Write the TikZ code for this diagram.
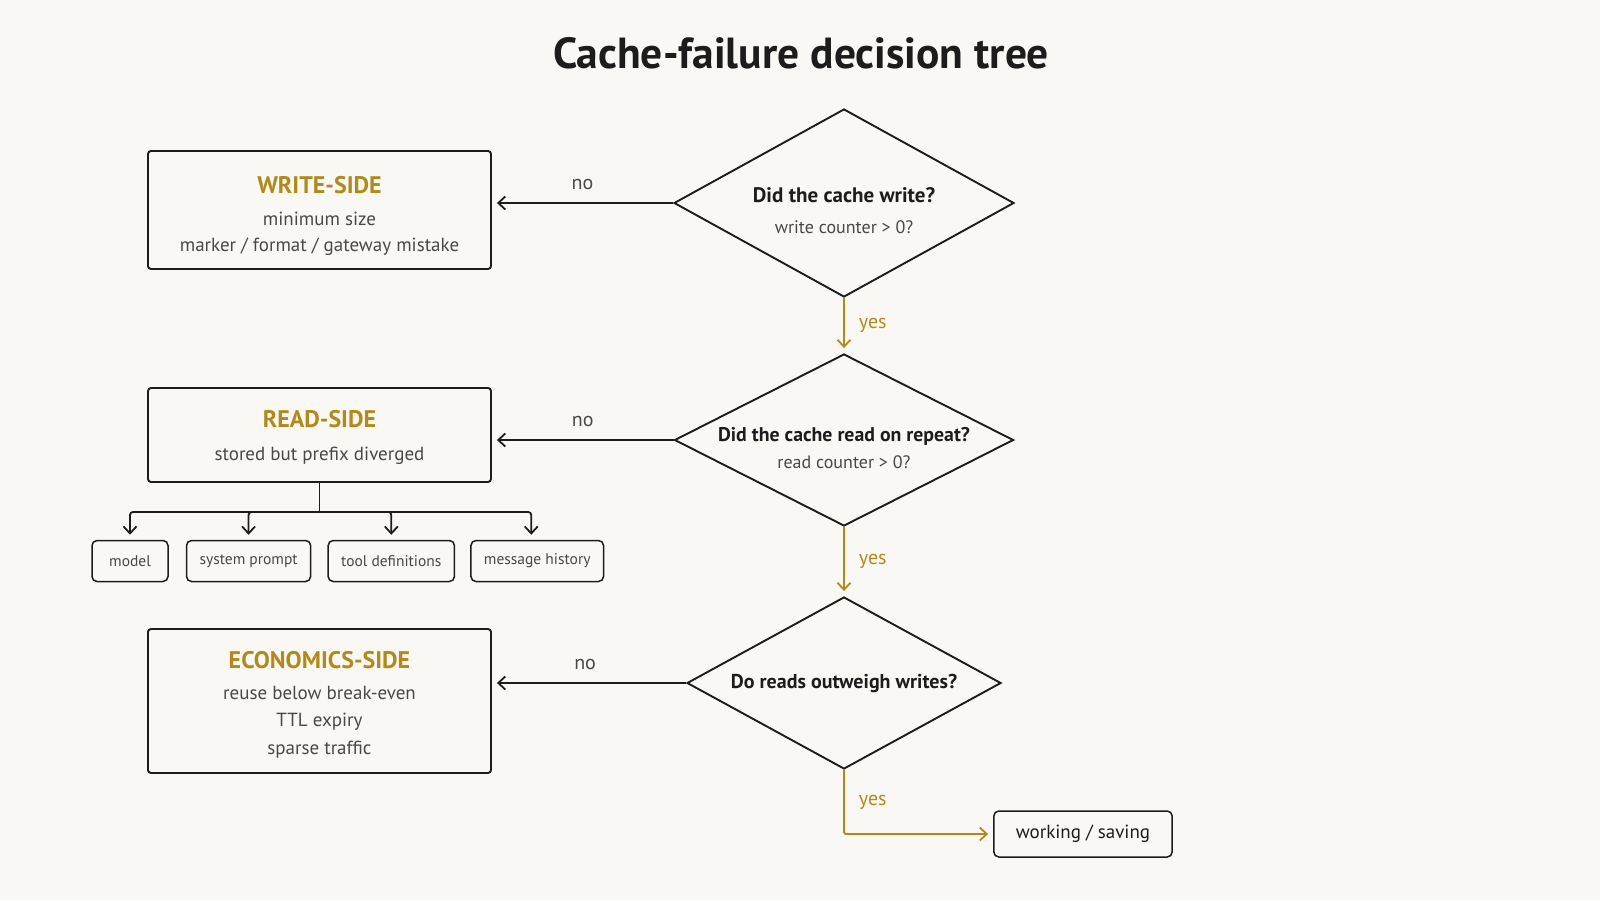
\documentclass[tikz,border=0pt]{standalone}
\usepackage{fontspec}
\setmainfont{PT Sans}
\usetikzlibrary{arrows.meta,positioning,shapes.geometric}
\definecolor{treebg}{RGB}{249,248,244}
\definecolor{treedark}{RGB}{28,28,28}
\definecolor{treegray}{RGB}{72,72,72}
\definecolor{treegold}{RGB}{178,138,28}
\newcommand{\sidehead}[2]{{\rule{0pt}{#1}\fontsize{24}{26}\selectfont\bfseries\color{treegold}#2}}
\newcommand{\asktext}[4]{\makebox[0pt]{\smash{\raisebox{-12pt}{\begin{tabular}{@{}c@{}}{\fontsize{#1}{24}\selectfont\bfseries #3}\\[#2]{\fontsize{18}{22}\selectfont\color{treegray}#4}\end{tabular}}}}}
\tikzset{
  treearrow/.style={-{Straight Barb[length=7pt,width=13pt]}, line width=1.8pt, draw=treedark, shorten >=5pt},
  yesarrow/.style={-{Straight Barb[length=7pt,width=13pt]}, line width=1.8pt, draw=treegold, shorten >=5pt},
  sidebox/.style={
    draw=treedark,
    fill=treebg,
    rounded corners=3pt,
    line width=1.9pt,
    align=center,
    text=treegray,
    font=\fontsize{19}{26}\selectfont,
    minimum width=343pt,
    inner sep=0pt
  },
  causebox/.style={
    draw=treedark,
    fill=treebg,
    rounded corners=5pt,
    line width=1.5pt,
    text=treegray,
    font=\fontsize{15.5}{18}\selectfont,
    minimum height=41pt,
    inner xsep=13pt
  },
  question/.style={
    diamond,
    draw=treedark,
    fill=treebg,
    line width=1.9pt,
    inner sep=0pt,
    text=treedark
  },
  nolabel/.style={text=treegray, font=\fontsize{20}{24}\selectfont, inner sep=2pt},
  yeslabel/.style={text=treegold, font=\fontsize{20}{24}\selectfont, inner sep=2pt}
}

\begin{document}
\begin{tikzpicture}[x=1pt, y=-1pt]
  \fill[treebg] (0,0) rectangle (1600,900);
  \useasboundingbox (0,0) rectangle (1600,900);

  \node[font=\fontsize{43.5}{48}\selectfont\bfseries, text=treedark] (title) at (801,53) {Cache-failure decision tree};

  % questions
  \node[question, minimum width=340pt, minimum height=188pt] (q1) at (844,203) {\asktext{21}{14pt}{Did the cache write?}{write counter > 0?}};
  \node[question, minimum width=339pt, minimum height=172pt] (q2) at (844,440) {\asktext{19.8}{11pt}{Did the cache read on repeat?}{read counter > 0?}};
  \node[question, minimum width=314pt, minimum height=172pt] (q3) at (844,683) {\makebox[0pt]{\fontsize{20}{24}\selectfont\bfseries Do reads outweigh writes?}};

  % failure sides
  \node[sidebox, minimum height=118pt] (write) at (319.5,210) {\sidehead{30pt}{WRITE-SIDE}\\[6pt]minimum size\\marker / format / gateway mistake};
  \node[sidebox, minimum height=94pt] (read) at (319.5,435) {\sidehead{23pt}{READ-SIDE}\\[7pt]stored but prefix diverged};
  \node[sidebox, minimum height=144pt, font=\fontsize{19}{27.5}\selectfont] (econ) at (319.5,701) {\sidehead{25pt}{ECONOMICS-SIDE}\\[3pt]reuse below break-even\\TTL expiry\\sparse traffic};
  \node[causebox, minimum height=46pt, inner xsep=22pt, text=treedark, font=\fontsize{19}{22}\selectfont] (ok) at (1083,834) {working / saving};

  % prefix parts
  \node[causebox, minimum width=76pt] (model) at (130,561) {model};
  \node[causebox, right=17pt of model] (sysprompt) {system prompt};
  \node[causebox, right=16pt of sysprompt] (tooldefs) {tool definitions};
  \node[causebox, right=15pt of tooldefs] (history) {message history};
  \coordinate[below=29pt of read.south] (fork);

  \draw[treearrow] (q1.west) -- (q1.west -| write.east) node[nolabel, midway, above=10pt] {no};
  \draw[treearrow] (q2.west) -- (q2.west -| read.east) node[nolabel, midway, above=10pt] {no};
  \draw[treearrow] (q3.west) -- (q3.west -| econ.east) node[nolabel, pos=0.52, above=10pt] {no};

  \draw[yesarrow] (q1.south) -- (q2.north) node[yeslabel, midway, right=12pt] {yes};
  \draw[yesarrow] (q2.south) -- (q3.north) node[yeslabel, midway, right=12pt] {yes};
  \draw[yesarrow, rounded corners=2pt] (q3.south) |- (ok.west) node[yeslabel, pos=0.25, right=12pt] {yes};

  \draw[line width=1.8pt, draw=treedark] (read.south) -- (fork);
  \draw[treearrow, rounded corners=3pt] (fork) -| (model.north);
  \draw[treearrow, rounded corners=3pt] (fork) -| (sysprompt.north);
  \draw[treearrow, rounded corners=3pt] (fork) -| (tooldefs.north);
  \draw[treearrow, rounded corners=3pt] (fork) -| ([xshift=-6pt]history.north);
\end{tikzpicture}
\end{document}
